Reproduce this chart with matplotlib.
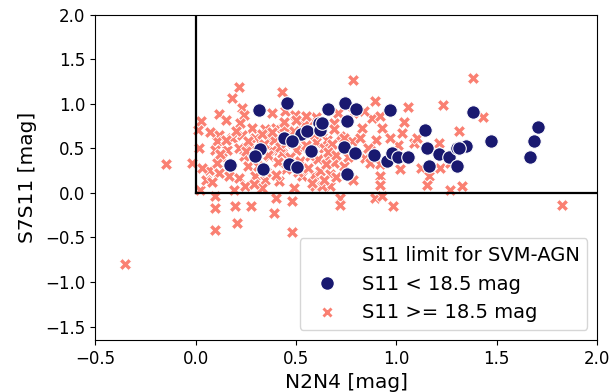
import numpy as np
import matplotlib.pyplot as plt
from matplotlib.lines import Line2D

# S11 < 18.5 mag
bright_x = [0.317, 0.455, 0.169, 0.32, 0.333, 0.466, 0.504, 0.524, 0.554, 0.576,
            0.438, 0.48, 0.612, 0.62, 0.658, 0.745, 0.798, 0.969, 0.753, 0.629,
            0.737, 0.795, 0.753, 0.886, 0.952, 0.977, 1.01, 1.06, 1.143, 1.15,
            1.21, 1.26, 1.30, 1.16, 1.30, 1.381, 1.348, 1.313, 1.472, 1.685,
            1.705, 1.666, 0.297]
bright_y = [0.936, 1.01, 0.31, 0.49, 0.27, 0.326, 0.29, 0.663, 0.70, 0.475,
            0.62, 0.58, 0.79, 0.71, 0.94, 1.01, 0.947, 0.936, 0.805, 0.787,
            0.52, 0.45, 0.217, 0.43, 0.355, 0.45, 0.40, 0.40, 0.71, 0.50,
            0.44, 0.40, 0.51, 0.30, 0.30, 0.91, 0.53, 0.505, 0.588, 0.588,
            0.737, 0.40, 0.41]

# S11 >= 18.5 mag
faint_x = [0.214, 0.18, 0.43, 0.114, 0.151, 0.028, 0.23, 0.243, 0.222, 0.28,
           0.38, 0.446, 0.496, 0.53, 0.58, 0.40, 0.347, 0.46, 0.114, 0.18,
           0.23, 0.297, 0.37, 0.106, 0.014, 0.098, 0.156, 0.214, 0.38, 0.43,
           0.53, 0.131, 0.239, 0.363, -0.018, 0.064, 0.106, 0.114, 0.164, 0.214,
           0.263, 0.297, 0.347, 0.413, 0.53, 0.587, 0.247, 0.33, 0.488, 0.596,
           0.19, 0.023, 0.098, 0.40, 0.48, 0.094, 0.197, 0.275, 0.388, 0.206,
           0.094, 0.48,
           0.786, 0.894, 1.06, 1.23, 0.878, 0.92, 0.836, 0.786, 0.71, 0.83,
           0.93, 1.03, 0.90, 1.01, 1.09, 1.21, 0.87, 0.845, 0.87, 0.92,
           1.02, 1.12, 1.16, 1.218, 1.268, 0.92, 1.15, 1.268, 0.92, 0.786,
           0.67, 0.63, 0.72, 0.72, 0.894, 0.928, 0.985, 0.737, 0.687, 0.654,
           0.72, 0.778, 0.654, 0.687,
           1.381, 1.43, 1.313, 1.326, 1.827, -0.148, -0.354,
           0.34, 0.39, 0.42, 0.45, 0.50, 0.55, 0.60, 0.64, 0.68, 0.36,
           0.41, 0.47, 0.52, 0.57, 0.61, 0.66, 0.70, 0.33, 0.38, 0.44,
           0.49, 0.54, 0.59, 0.63, 0.69, 0.74, 0.31, 0.27, 0.25, 0.45,
           0.51, 0.56, 0.62, 0.67, 0.35, 0.40, 0.58, 0.64, 0.70, 0.76,
           0.29, 0.26, 0.20, 0.15, 0.07, 0.05, 0.12, 0.01, 0.03, 0.08,
           0.82, 0.86, 0.97, 1.04, 1.10, 0.60, 0.55, 0.50, 0.44, 0.65]
faint_y = [1.19, 1.07, 1.13, 0.89, 0.82, 0.81, 0.955, 0.88, 0.787, 0.73,
           0.90, 0.917, 0.88, 0.787, 0.805, 0.73, 0.72, 0.71, 0.655, 0.62,
           0.655, 0.62, 0.62, 0.58, 0.505, 0.487, 0.487, 0.505, 0.487, 0.45,
           0.505, 0.39, 0.41, 0.41, 0.337, 0.26, 0.337, 0.225, 0.187, 0.17,
           0.30, 0.187, 0.15, 0.13, 0.187, 0.205, 0.075, 0.056, 0.056, 0.075,
           0.037, 0.037, -0.03, -0.056, -0.086, -0.17, -0.15, -0.15, -0.23, -0.34,
           -0.42, -0.44,
           1.265, 1.03, 0.966, 0.99, 0.84, 0.86, 0.917, 0.90, 0.90, 0.73,
           0.73, 0.674, 0.59, 0.54, 0.56, 0.56, 0.487, 0.39, 0.337, 0.32,
           0.27, 0.28, 0.187, 0.28, 0.337, 0.187, 0.093, 0.037, 0.093, 0.15,
           0.082, 0.075, -0.056, -0.14, -0.056, -0.03, -0.15, 0.30, 0.337, 0.39,
           0.636, 0.58, 0.60, 0.787,
           1.29, 0.854, 0.70, 0.075, -0.13, 0.326, -0.795,
           0.55, 0.60, 0.52, 0.56, 0.48, 0.54, 0.57, 0.50, 0.55, 0.43,
           0.35, 0.40, 0.36, 0.42, 0.38, 0.46, 0.43, 0.66, 0.68, 0.74,
           0.70, 0.76, 0.66, 0.70, 0.72, 0.62, 0.30, 0.55, 0.47, 0.27,
           0.24, 0.28, 0.25, 0.21, 0.24, 0.20, 0.11, 0.14, 0.18, 0.40,
           0.10, 0.58, 0.70, 0.60, 0.68, 0.15, 0.44, 0.71, 0.28, 0.12,
           0.62, 0.50, 0.62, 0.80, 0.62, 0.85, 0.87, 0.82, 0.80, 0.33]

navy = '#191970'
salmon = '#fa8072'

fig, ax = plt.subplots(figsize=(6.15, 3.92), dpi=100)
fig.subplots_adjust(left=0.155, right=0.971, top=0.962, bottom=0.133)

ax.scatter(faint_x, faint_y, s=75, marker='X', color=salmon,
           edgecolor='white', linewidth=0.6, zorder=2)
ax.scatter(bright_x, bright_y, s=95, marker='o', color=navy,
           edgecolor='white', linewidth=0.8, zorder=2)

# SVM-AGN selection limits
ax.plot([0, 0], [0, 2], color='black', lw=1.6, zorder=3)
ax.plot([0, 2], [0, 0], color='black', lw=1.6, zorder=3)

ax.set_xlim(-0.5, 2.0)
ax.set_ylim(-1.65, 2.0)
ax.set_xticks([-0.5, 0.0, 0.5, 1.0, 1.5, 2.0])
ax.set_yticks([-1.5, -1.0, -0.5, 0.0, 0.5, 1.0, 1.5, 2.0])
ax.tick_params(labelsize=12)
ax.set_xlabel('N2N4 [mag]', fontsize=14.5)
ax.set_ylabel('S7S11 [mag]', fontsize=14.5, labelpad=6)

handles = [Line2D([], [], linestyle='none', marker=None),
           Line2D([], [], linestyle='none', marker='o', color=navy,
                  markeredgecolor='white', markersize=10),
           Line2D([], [], linestyle='none', marker='X', color=salmon,
                  markeredgecolor='white', markersize=9)]
labels = ['S11 limit for SVM-AGN', 'S11 < 18.5 mag', 'S11 >= 18.5 mag']
ax.legend(handles, labels, loc='lower right', fontsize=14)

fig.savefig('out.png', dpi=100)
